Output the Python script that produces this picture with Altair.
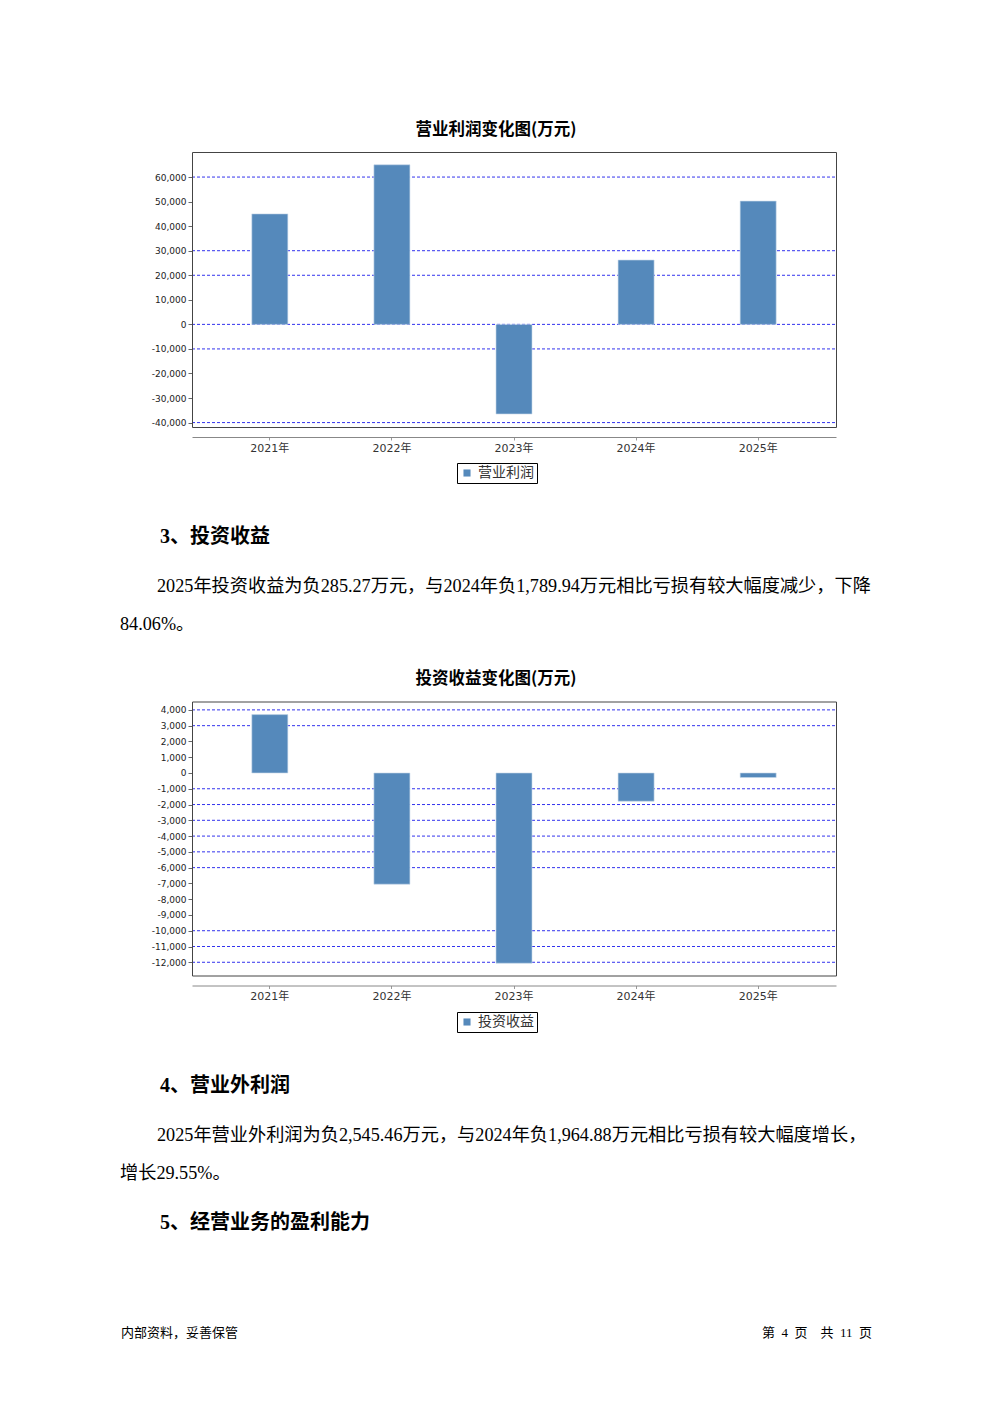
import altair as alt
import pandas as pd

# ---------------- data ----------------
years = ["2021年", "2022年", "2023年", "2024年", "2025年"]
op_profit = [45000, 65000, -36500, 26200, 50200]
inv_income = [3700, -7050, -12060, -1789.94, -285.27]

op_ticks = [60000, 50000, 40000, 30000, 20000, 10000, 0, -10000, -20000, -30000, -40000]
op_grid = [60000, 30000, 20000, 0, -10000, -40000]
op_domain = [-42000, 70000]

inv_ticks = [4000, 3000, 2000, 1000, 0, -1000, -2000, -3000, -4000, -5000, -6000,
             -7000, -8000, -9000, -10000, -11000, -12000]
inv_grid = [4000, 3000, -1000, -2000, -3000, -4000, -5000, -6000, -10000, -11000, -12000]
inv_domain = [-12870, 4500]

# ---------------- styles ----------------
W, H = 976, 1387
X0, X1 = 184, 828
BAR = "#5589bb"
GRID = "#3333ee"
CJK = "Noto Sans CJK SC"
BODY = "Liberation Serif, Noto Sans CJK SC"
AXF = "DejaVu Sans, Noto Sans CJK SC"
YLABEL = "replace(format(datum.value, ','), '\u2212', '-')"
NB = "\u00a0"


def panel(values, series, ticks, grid, domain, y_top, y_bot, x_axis_y, legend_y):
    df = pd.DataFrame({"year": years, "value": values, "series": [series] * len(years)})
    gdf = pd.DataFrame({"g": grid})
    yscale = alt.Scale(domain=domain, range=[y_bot, y_top], nice=False)
    xscale = alt.Scale(domain=years, range=[X0, X1], paddingInner=0.705, paddingOuter=0.49)
    yaxis = alt.Axis(orient="left", offset=-X0, values=ticks, labelExpr=YLABEL, title=None,
                     domain=False, grid=False, tickSize=4, tickColor="#666",
                     labelFont=AXF, labelFontSize=9, labelColor="#222", labelPadding=2,
                     labelOverlap=False)
    xaxis = alt.Axis(orient="bottom", offset=x_axis_y - H, title=None, grid=False,
                     domainColor="#888", tickColor="#999", tickSize=3, labelAngle=0,
                     labelFont=AXF, labelFontSize=11, labelColor="#333", labelPadding=2)
    gr = alt.Chart(gdf).mark_rule(stroke=GRID, strokeDash=[3, 2], strokeWidth=1).encode(
        y=alt.Y("g:Q", scale=yscale, axis=yaxis),
        x=alt.value(X0), x2=alt.value(X1))
    bars = alt.Chart(df).mark_bar(stroke="#c8d9ea", strokeWidth=0.6).encode(
        x=alt.X("year:N", scale=xscale, axis=xaxis, sort=years),
        y=alt.Y("value:Q", scale=yscale, axis=yaxis),
        y2=alt.datum(0),
        color=alt.Color("series:N", scale=alt.Scale(range=[BAR]),
                        legend=alt.Legend(orient="none", legendX=449, legendY=legend_y,
                                          title=None, strokeColor="#000", padding=3,
                                          symbolType="square", symbolSize=50,
                                          symbolStrokeWidth=0, labelFont=CJK,
                                          labelFontSize=14, labelColor="#333",
                                          labelOffset=4)))
    frame = alt.Chart(pd.DataFrame({"d": [0]})).mark_rect(
        filled=False, stroke="#444", strokeWidth=1).encode(
        x=alt.value(X0 + 0.5), x2=alt.value(X1 + 0.5),
        y=alt.value(y_top), y2=alt.value(y_bot))
    return alt.layer(gr, bars, frame)


def txt(s, x, y, size, weight="normal", font=BODY, align="left", color="#000"):
    return alt.Chart(pd.DataFrame({"t": [s]})).mark_text(
        align=align, baseline="middle", font=font, fontSize=size, fontWeight=weight,
        color=color).encode(x=alt.value(x), y=alt.value(y), text="t:N")


p1 = panel(op_profit, "营业利润", op_ticks, op_grid, op_domain, 144.5, 419.5, 429, 455)
p2 = panel(inv_income, "投资收益", inv_ticks, inv_grid, inv_domain, 694, 968, 977.5, 1004)

S2 = NB * 2
S5 = NB * 4
texts = [
    txt("营业利润变化图(万元)", 488, 122, 16.5, "bold", CJK, "center"),
    txt("3、投资收益", 152, 529, 20, "bold"),
    txt("2025年投资收益为负285.27万元，与2024年负1,789.94万元相比亏损有较大幅度减少，下降", 149, 578.5, 18.2),
    txt("84.06%。", 112, 616.5, 18.2),
    txt("投资收益变化图(万元)", 488, 671, 16.5, "bold", CJK, "center"),
    txt("4、营业外利润", 152, 1078, 20, "bold"),
    txt("2025年营业外利润为负2,545.46万元，与2024年负1,964.88万元相比亏损有较大幅度增长，", 149, 1127.5, 18.2),
    txt("增长29.55%。", 112, 1165.5, 18.2),
    txt("5、经营业务的盈利能力", 152, 1215, 20, "bold"),
    txt("内部资料，妥善保管", 113, 1325, 13, font=CJK),
    txt(f"第{S2}4{S2}页{S5}共{S2}11{S2}页", 864, 1325, 13, font=BODY, align="right"),
]

chart = alt.layer(p1, p2, *texts).resolve_scale(
    x="independent", y="independent", color="independent"
).properties(
    width=W, height=H, autosize=alt.AutoSizeParams(type="none"), padding=0,
    background="white"
).configure_view(stroke=None)

chart.save("out.html", embed_options={"renderer": "svg", "actions": False})
